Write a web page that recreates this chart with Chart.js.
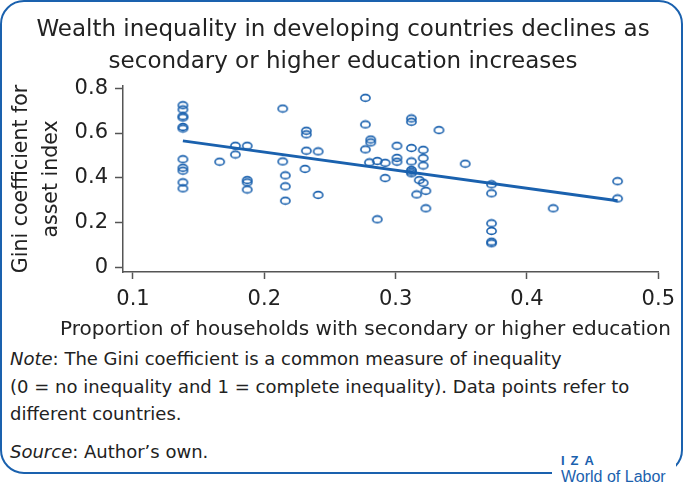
<!DOCTYPE html>
<html>
<head>
<meta charset="utf-8">
<script src="https://cdn.jsdelivr.net/npm/chart.js@4.4.1/dist/chart.umd.min.js"></script>
<style>
  body { margin: 0; width: 683px; height: 484px; overflow: hidden; background: #fff; position: relative; font-family: "DejaVu Sans", sans-serif; color: #222; }
  #frame { position: absolute; left: 0; top: 0; width: 683px; height: 474px; box-sizing: border-box; border: 2.5px solid #1a61ae; border-radius: 24px; }
  #wrap { position: absolute; left: 0; top: 0; width: 683px; height: 345px; }
  #xtitle { position: absolute; left: 0; top: 316px; width: 731px; text-align: center; white-space: nowrap; font-size: 20px; line-height: 24px; }
  #notes { position: absolute; left: 10px; top: 345px; font-size: 18px; line-height: 27.5px; }
  #notes p { margin: 0; }
  #notes .src { margin-top: 10px; }
  #logo { position: absolute; left: 552px; top: 454px; width: 124px; height: 30px; background: #fff; color: #1a61ae; padding-left: 9px; box-sizing: border-box; font-family: "Liberation Sans", sans-serif; }
  #logo .iza { font-weight: bold; font-size: 13px; letter-spacing: 6px; line-height: 14px; }
  #logo .wol { font-size: 16px; line-height: 17px; }
</style>
</head>
<body>
<div id="frame"></div>
<div id="wrap"><canvas id="gini" width="683" height="345"></canvas></div>
<div id="xtitle">Proportion of households with secondary or higher education</div>
<div id="notes">
  <p><i>Note</i>: The Gini coefficient is a common measure of inequality</p>
  <p>(0 = no inequality and 1 = complete inequality). Data points refer to</p>
  <p>different countries.</p>
  <p class="src"><i>Source</i>: Author’s own.</p>
</div>
<div id="logo"><div class="iza">IZA</div><div class="wol">World of Labor</div></div>
<script>
// share of households with secondary or higher education, one entry per country
const eduShare = [
  0.138, 0.138, 0.138, 0.138, 0.138, 0.138, 0.138, 0.138, 0.138, 0.138, 0.138,
  0.166, 0.178, 0.178, 0.187, 0.187, 0.187, 0.187,
  0.214, 0.214, 0.216, 0.216, 0.216,
  0.232, 0.232, 0.232, 0.231, 0.241, 0.241,
  0.277, 0.277, 0.277, 0.281, 0.281, 0.280, 0.286, 0.286, 0.292, 0.292,
  0.301, 0.301, 0.301,
  0.312, 0.312, 0.312, 0.312, 0.312, 0.312, 0.312,
  0.318, 0.321, 0.321, 0.321, 0.321, 0.316, 0.323, 0.323,
  0.333, 0.353,
  0.373, 0.373, 0.373, 0.373, 0.373, 0.373,
  0.420, 0.469, 0.469
];
// Gini coefficient of the asset index, same order
const giniCoef = [
  0.724, 0.705, 0.675, 0.669, 0.627, 0.620, 0.483, 0.445, 0.432, 0.380, 0.353,
  0.472, 0.543, 0.504, 0.543, 0.390, 0.380, 0.348,
  0.709, 0.473, 0.411, 0.362, 0.298,
  0.610, 0.594, 0.521, 0.440, 0.518, 0.324,
  0.757, 0.638, 0.527, 0.571, 0.558, 0.469, 0.475, 0.215, 0.467, 0.399,
  0.543, 0.489, 0.472,
  0.665, 0.650, 0.533, 0.473, 0.435, 0.428, 0.420,
  0.390, 0.378, 0.525, 0.488, 0.455, 0.326, 0.342, 0.264,
  0.613, 0.463,
  0.371, 0.331, 0.197, 0.163, 0.115, 0.108,
  0.264, 0.385, 0.308
];
// fitted line, read at its two ends
const fitX = [0.138, 0.469];
const fitY = [0.565, 0.298];

const xTicks = [0.1, 0.2, 0.3, 0.4, 0.5];
const yTicks = [0, 0.2, 0.4, 0.6, 0.8];

const blue = '#1a61ae';
const axisGrey = '#555';

function ring(w, h) {
  const c = document.createElement('canvas');
  c.width = w + 4;
  c.height = h + 4;
  const g = c.getContext('2d');
  g.strokeStyle = blue;
  g.lineWidth = 1.6;
  g.beginPath();
  g.ellipse(c.width / 2, c.height / 2, w / 2, h / 2, 0, 0, Math.PI * 2);
  g.stroke();
  return c;
}

const points = eduShare.map((x, i) => ({ x: x, y: giniCoef[i] }));
const fitLine = fitX.map((x, i) => ({ x: x, y: fitY[i] }));

new Chart("gini", {
  type: "scatter",
  data: {
    datasets: [
      {
        data: points,
        pointStyle: ring(9.2, 6.8),
        pointRadius: 5
      },
      {
        type: "line",
        data: fitLine,
        borderColor: blue,
        borderWidth: 3,
        pointRadius: 0,
        fill: false
      }
    ]
  },
  options: {
    responsive: false,
    animation: false,
    // left/right padding kept equal so the title centres on the page
    layout: { padding: { left: 26, right: 23, top: 0, bottom: 0 } },
    plugins: {
      legend: { display: false },
      tooltip: { enabled: false },
      title: {
        display: true,
        text: ["Wealth inequality in developing countries declines as", "secondary or higher education increases"],
        color: '#222',
        font: { family: "DejaVu Sans", size: 23, weight: 'normal', lineHeight: 1.39 },
        padding: { top: 14, bottom: 8 }
      }
    },
    scales: {
      x: {
        type: 'linear',
        min: 0.0924,
        max: 0.5,
        afterBuildTicks: axis => { axis.ticks = xTicks.map(v => ({ value: v })); },
        afterFit: axis => { axis.height = 73; },
        border: { color: axisGrey, width: 1.5 },
        grid: { drawOnChartArea: false, tickLength: 7, color: axisGrey, tickWidth: 1.5 },
        ticks: { color: '#222', padding: 8, font: { family: "DejaVu Sans", size: 21 }, maxRotation: 0, callback: v => v }
      },
      y: {
        min: -0.02,
        max: 0.81,
        afterBuildTicks: axis => { axis.ticks = yTicks.map(v => ({ value: v })); },
        afterFit: axis => { axis.width = 97; },
        border: { color: axisGrey, width: 1.5 },
        grid: { drawOnChartArea: false, tickLength: 8, color: axisGrey, tickWidth: 1.5 },
        ticks: { color: '#222', padding: 7, font: { family: "DejaVu Sans", size: 21 }, callback: v => v },
        title: {
          display: true,
          text: ["Gini coefficient for", "asset index"],
          color: '#222',
          font: { family: "DejaVu Sans", size: 20.5, lineHeight: 1.46 },
          padding: { top: -19, bottom: 0 }
        }
      }
    }
  }
});
</script>
</body>
</html>
